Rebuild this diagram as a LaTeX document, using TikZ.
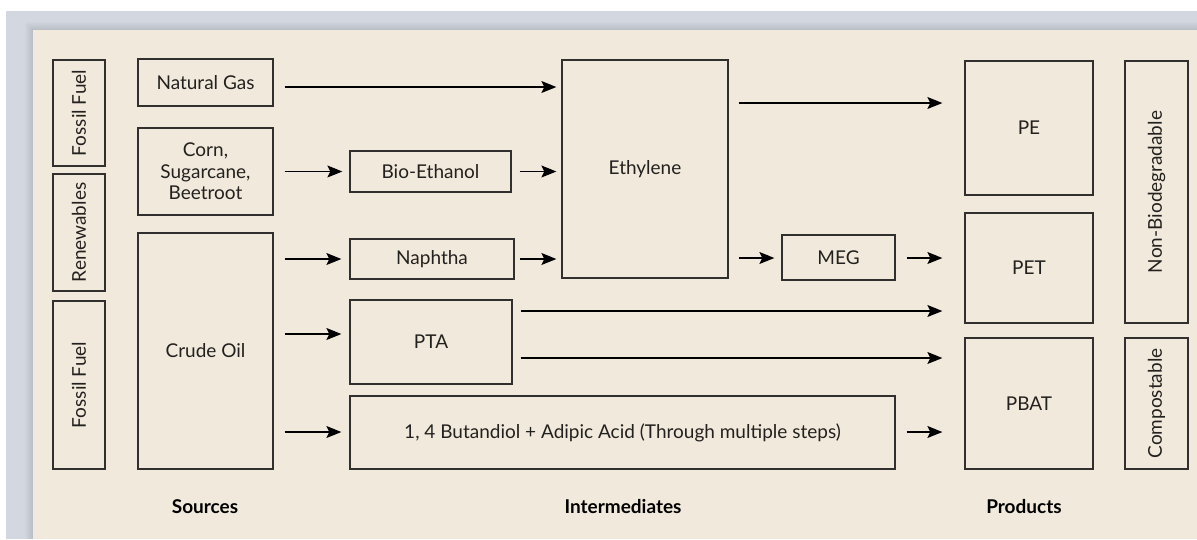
\documentclass[tikz,border=0pt]{standalone}
\usepackage{fontspec}
\setmainfont{Lato}
\usetikzlibrary{arrows.meta,calc}
\definecolor{pagebg}{RGB}{211,215,223}
\definecolor{panel}{RGB}{241,234,220}
\definecolor{edge}{RGB}{50,48,46}
\definecolor{ink}{RGB}{35,33,31}
\tikzset{
  box/.style={draw=edge, line width=1.3pt, inner sep=0pt, text=ink, align=center, font=\fontsize{19}{21.5}\selectfont},
  vbox/.style={box, rotate=90},
  arr/.style={draw=black, line width=1.2pt, -{Stealth[length=15pt,width=12pt,inset=3pt]}},
  heading/.style={font=\fontsize{19}{22}\selectfont\bfseries, text=black}
}
\begin{document}
\begin{tikzpicture}[x=1pt,y=-1pt]
\useasboundingbox (0,0) rectangle (1197,539);
\fill[white] (0,0) rectangle (1197,539);
\fill[pagebg] (6,11) rectangle (1197,539);
\foreach \d in {1,...,8}{
  \fill[black, opacity=0.012] ({33-\d},{30-\d}) rectangle (1197,539);
}
\fill[panel] (33,30) rectangle (1197,539);
% left vertical labels
\node[vbox, minimum width=106, minimum height=52] (ff1) at (79,113) {Fossil Fuel};
\node[vbox, minimum width=117, minimum height=52] (ren) at (79,232.5) {Renewables};
\node[vbox, minimum width=168, minimum height=52] (ff2) at (79,385) {Fossil Fuel};
% sources
\node[box, minimum width=135, minimum height=47] (ng) at (205.5,82.5) {Natural Gas};
\node[box, minimum width=135, minimum height=87] (corn) at (205.5,171.5) {Corn,\\Sugarcane,\\Beetroot};
\node[box, minimum width=135, minimum height=236] (crude) at (205.5,351) {Crude Oil};
% intermediates
\node[box, minimum width=161, minimum height=41] (bio) at (430.5,171.5) {Bio-Ethanol};
\node[box, minimum width=164, minimum height=40] (naph) at (432,259) {Naphtha};
\node[box, minimum width=162, minimum height=84] (pta) at (431,342) {PTA};
\node[box, minimum width=545, minimum height=73] (but) at (622.5,432.5) {1, 4 Butandiol + Adipic Acid (Through multiple steps)};
\node[box, minimum width=166, minimum height=218] (eth) at (645,169) {Ethylene};
\node[box, minimum width=113, minimum height=45] (meg) at (838.5,257.5) {MEG};
% products
\node[box, minimum width=128, minimum height=134] (pe) at (1029,128) {PE};
\node[box, minimum width=128, minimum height=110] (pet) at (1029,268) {PET};
\node[box, minimum width=128, minimum height=131] (pbat) at (1029,403.5) {PBAT};
\node[vbox, minimum width=262, minimum height=63] (nb) at (1156.5,192) {Non-Biodegradable};
\node[vbox, minimum width=131, minimum height=63] (comp) at (1156.5,403.5) {Compostable};
% headings
\node[heading] (hs) at (205,507) {Sources};
\node[heading] (hi) at (623,507) {Intermediates};
\node[heading] (hp) at (1024,507) {Products};
% row helper coordinates
\coordinate (r87) at (0,87);
\coordinate (r103) at (0,103);
\coordinate (r172) at (0,171.5);
\coordinate (r258) at (0,258);
\coordinate (r259) at (0,259);
\coordinate (r311) at (0,311);
\coordinate (r334) at (0,334);
\coordinate (r358) at (0,358);
\coordinate (r432) at (0,432);
% connectors
\draw[arr] ($(ng.east |- r87)+(11,0)$) -- ($(eth.west |- r87)+(-5,0)$);
\draw[arr] ($(corn.east |- r172)+(11,0)$) -- ($(bio.west |- r172)+(-7,0)$);
\draw[arr] ($(bio.east |- r172)+(8,0)$) -- ($(eth.west |- r172)+(-5,0)$);
\draw[arr] ($(crude.east |- r259)+(11,0)$) -- ($(naph.west |- r259)+(-8,0)$);
\draw[arr] ($(naph.east |- r259)+(5,0)$) -- ($(eth.west |- r259)+(-5,0)$);
\draw[arr] ($(crude.east |- r334)+(11,0)$) -- ($(pta.west |- r334)+(-8,0)$);
\draw[arr] ($(crude.east |- r432)+(11,0)$) -- ($(but.west |- r432)+(-8,0)$);
\draw[arr] ($(eth.east |- r103)+(10,0)$) -- ($(pe.west |- r103)+(-22,0)$);
\draw[arr] ($(eth.east |- r258)+(10,0)$) -- ($(meg.west |- r258)+(-7,0)$);
\draw[arr] ($(meg.east |- r258)+(11,0)$) -- ($(pet.west |- r258)+(-22,0)$);
\draw[arr] ($(pta.east |- r311)+(8,0)$) -- ($(pet.west |- r311)+(-22,0)$);
\draw[arr] ($(pta.east |- r358)+(8,0)$) -- ($(pbat.west |- r358)+(-22,0)$);
\draw[arr] ($(but.east |- r432)+(11,0)$) -- ($(pbat.west |- r432)+(-22,0)$);
\end{tikzpicture}
\end{document}
